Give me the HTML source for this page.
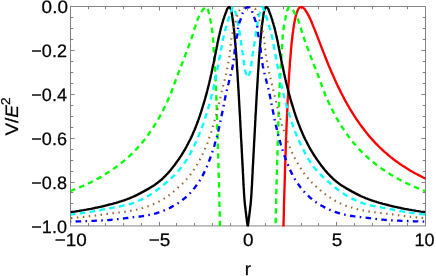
<!DOCTYPE html>
<html><head><meta charset="utf-8"><title>plot</title><style>html,body{margin:0;padding:0;background:#fff}body{width:436px;height:276px;position:relative;overflow:hidden;font-family:"Liberation Sans",sans-serif}</style></head><body>
<svg width="436" height="276" viewBox="0 0 436 276" style="position:absolute;left:0;top:0;will-change:transform">
<defs><clipPath id="c"><rect x="70.5" y="5.5" width="355.0" height="221.1"/></clipPath></defs>
<rect x="70.5" y="6.5" width="355.0" height="219.4" stroke="#858585" stroke-width="1" fill="none"/>
<path d="M88.50 225.9v-2.8M88.50 6.5v2.8M105.50 225.9v-2.8M105.50 6.5v2.8M123.50 225.9v-2.8M123.50 6.5v2.8M141.50 225.9v-2.8M141.50 6.5v2.8M159.50 225.9v-4.0M159.50 6.5v4.0M176.50 225.9v-2.8M176.50 6.5v2.8M194.50 225.9v-2.8M194.50 6.5v2.8M212.50 225.9v-2.8M212.50 6.5v2.8M230.50 225.9v-2.8M230.50 6.5v2.8M247.50 225.9v-4.0M247.50 6.5v4.0M265.50 225.9v-2.8M265.50 6.5v2.8M283.50 225.9v-2.8M283.50 6.5v2.8M301.50 225.9v-2.8M301.50 6.5v2.8M318.50 225.9v-2.8M318.50 6.5v2.8M336.50 225.9v-4.0M336.50 6.5v4.0M354.50 225.9v-2.8M354.50 6.5v2.8M372.50 225.9v-2.8M372.50 6.5v2.8M389.50 225.9v-2.8M389.50 6.5v2.8M407.50 225.9v-2.8M407.50 6.5v2.8M70.5 17.50h2.8M425.5 17.50h-2.8M70.5 28.50h2.8M425.5 28.50h-2.8M70.5 39.50h2.8M425.5 39.50h-2.8M70.5 50.50h4.0M425.5 50.50h-4.0M70.5 61.50h2.8M425.5 61.50h-2.8M70.5 72.50h2.8M425.5 72.50h-2.8M70.5 83.50h2.8M425.5 83.50h-2.8M70.5 94.50h4.0M425.5 94.50h-4.0M70.5 105.50h2.8M425.5 105.50h-2.8M70.5 116.50h2.8M425.5 116.50h-2.8M70.5 127.50h2.8M425.5 127.50h-2.8M70.5 138.50h4.0M425.5 138.50h-4.0M70.5 149.50h2.8M425.5 149.50h-2.8M70.5 160.50h2.8M425.5 160.50h-2.8M70.5 171.50h2.8M425.5 171.50h-2.8M70.5 182.50h4.0M425.5 182.50h-4.0M70.5 192.50h2.8M425.5 192.50h-2.8M70.5 203.50h2.8M425.5 203.50h-2.8M70.5 214.50h2.8M425.5 214.50h-2.8" stroke="#808080" stroke-width="1" fill="none"/>
<g clip-path="url(#c)" fill="none" stroke-width="2.35" stroke-linejoin="round">
<path d="M281.7 312.3 L281.9 302.4 L282.1 292.7 L282.3 283.4 L282.4 274.4 L282.6 265.6 L282.8 257.1 L283.0 248.8 L283.2 240.8 L283.3 233.0 L283.5 225.4 L283.7 218.1 L283.9 211.0 L284.0 204.1 L284.2 197.4 L284.4 190.9 L284.6 184.6 L284.8 178.5 L284.9 172.6 L285.1 166.8 L285.3 161.3 L285.5 155.9 L285.7 150.6 L285.8 145.5 L286.0 140.6 L286.2 135.8 L286.4 131.1 L286.5 126.6 L286.7 122.3 L286.9 118.0 L287.1 113.9 L287.3 109.9 L287.4 106.1 L287.6 102.3 L287.8 98.7 L288.0 95.2 L288.2 91.8 L288.3 88.5 L288.5 85.3 L288.7 82.2 L288.9 79.2 L289.0 76.3 L289.2 73.4 L289.4 70.7 L289.6 68.1 L289.8 65.5 L289.9 63.1 L290.1 60.7 L290.3 58.3 L290.5 56.1 L290.7 53.9 L290.8 51.9 L291.0 49.8 L291.2 47.9 L291.4 46.0 L291.5 44.2 L291.7 42.4 L291.9 40.7 L292.1 39.1 L292.3 37.5 L292.4 36.0 L292.6 34.5 L292.8 33.1 L293.0 31.7 L293.2 30.4 L293.3 29.1 L293.5 27.9 L293.7 26.7 L293.9 25.6 L294.0 24.5 L294.2 23.5 L294.4 22.5 L294.6 21.5 L294.8 20.6 L294.9 19.7 L295.1 18.9 L295.3 18.1 L295.5 17.3 L295.7 16.6 L295.8 15.9 L296.0 15.2 L296.2 14.6 L296.4 14.0 L296.6 13.4 L296.7 12.9 L296.9 12.4 L297.1 11.9 L297.3 11.4 L297.4 11.0 L297.6 10.6 L297.8 10.2 L298.0 9.9 L298.2 9.5 L298.3 9.2 L298.5 9.0 L298.7 8.7 L298.9 8.4 L299.1 8.2 L299.2 8.0 L299.4 7.8 L299.6 7.7 L299.8 7.5 L299.9 7.4 L300.1 7.3 L300.3 7.2 L300.5 7.1 L300.7 7.1 L300.8 7.0 L301.0 7.0 L301.2 7.0 L301.4 7.0 L301.6 7.0 L301.7 7.1 L301.9 7.1 L302.1 7.2 L302.3 7.2 L302.4 7.3 L302.6 7.4 L302.8 7.5 L303.0 7.6 L303.2 7.7 L303.3 7.9 L303.5 8.0 L303.7 8.2 L303.9 8.4 L304.1 8.5 L304.2 8.7 L304.4 8.9 L304.6 9.1 L304.8 9.3 L304.9 9.6 L305.1 9.8 L305.3 10.0 L305.5 10.3 L305.7 10.5 L305.8 10.8 L306.0 11.1 L306.2 11.4 L306.4 11.6 L306.6 11.9 L306.7 12.2 L306.9 12.5 L307.1 12.8 L307.3 13.1 L307.4 13.5 L307.6 13.8 L307.8 14.1 L308.0 14.5 L308.2 14.8 L308.3 15.1 L308.5 15.5 L308.7 15.8 L308.9 16.2 L309.1 16.6 L309.2 16.9 L309.4 17.3 L309.6 17.7 L309.8 18.1 L309.9 18.4 L310.1 18.8 L311.7 22.3 L313.2 26.1 L314.8 29.9 L316.3 33.9 L317.9 37.9 L319.4 41.9 L321.0 45.9 L322.5 49.9 L324.1 53.9 L325.6 57.8 L327.2 61.7 L328.7 65.5 L330.3 69.2 L331.8 72.8 L333.4 76.3 L334.9 79.8 L336.5 83.2 L338.0 86.4 L339.6 89.6 L341.1 92.7 L342.7 95.8 L344.2 98.7 L345.8 101.6 L347.3 104.3 L348.9 107.0 L350.4 109.7 L352.0 112.2 L353.5 114.7 L355.1 117.1 L356.6 119.4 L358.2 121.7 L359.7 123.9 L361.3 126.0 L362.8 128.1 L364.4 130.1 L365.9 132.1 L367.5 134.0 L369.0 135.9 L370.6 137.7 L372.1 139.4 L373.7 141.1 L375.2 142.8 L376.8 144.4 L378.3 146.0 L379.9 147.5 L381.4 149.0 L383.0 150.4 L384.5 151.8 L386.1 153.2 L387.6 154.5 L389.2 155.8 L390.7 157.1 L392.3 158.3 L393.8 159.5 L395.4 160.7 L396.9 161.8 L398.5 162.9 L400.0 164.0 L401.6 165.1 L403.1 166.1 L404.7 167.1 L406.2 168.1 L407.8 169.0 L409.3 170.0 L410.9 170.9 L412.4 171.8 L414.0 172.7 L415.5 173.5 L417.1 174.3 L418.6 175.1 L420.2 175.9 L421.7 176.7 L423.3 177.5 L424.8 178.2 L426.4 178.9 L427.9 179.6 L429.5 180.3 L431.0 181.0 L432.6 181.7" stroke="#ff0000"/>
<path d="M70.5 191.0 L70.8 190.9 L71.8 190.5 L72.8 190.1 L73.8 189.7 L74.8 189.4 L75.8 189.0 L76.8 188.6 L77.8 188.2 L78.7 187.8 L79.7 187.3 L80.7 186.9 L81.6 186.5 L82.6 186.1 L83.5 185.7 L84.5 185.3 L85.4 184.8 L86.3 184.4 L87.3 184.0 L88.2 183.5 L89.1 183.1 L90.0 182.7 L90.9 182.2 L91.8 181.8 L92.7 181.3 L93.6 180.9 L94.5 180.4 L95.3 179.9 L96.2 179.5 L97.1 179.0 L98.0 178.5 L98.8 178.1 L99.7 177.6 L100.5 177.1 L101.4 176.6 L102.2 176.1 L103.0 175.6 L103.9 175.1 L104.7 174.7 L105.5 174.1 L106.3 173.6 L107.1 173.1 L107.9 172.6 L108.7 172.1 L109.5 171.6 L110.3 171.1 L111.1 170.5 L111.9 170.0 L112.7 169.5 L113.5 168.9 L114.2 168.4 L115.0 167.8 L115.8 167.3 L116.5 166.7 L117.3 166.2 L118.0 165.6 L118.8 165.0 L119.5 164.5 L120.2 163.9 L121.0 163.3 L121.7 162.7 L122.4 162.1 L123.1 161.6 L123.8 161.0 L124.6 160.4 L125.3 159.8 L126.0 159.2 L126.7 158.5 L127.4 157.9 L128.0 157.3 L128.7 156.7 L129.4 156.1 L130.1 155.4 L130.8 154.8 L131.4 154.1 L132.1 153.5 L132.8 152.8 L133.4 152.2 L134.1 151.5 L134.7 150.9 L135.4 150.2 L136.0 149.5 L136.7 148.8 L137.3 148.1 L137.9 147.4 L138.6 146.7 L139.2 146.0 L139.8 145.3 L140.4 144.6 L141.1 143.9 L141.7 143.2 L142.3 142.4 L142.9 141.7 L143.5 141.0 L144.1 140.2 L144.7 139.5 L145.3 138.7 L145.9 137.9 L146.4 137.2 L147.0 136.4 L147.6 135.6 L148.2 134.8 L148.7 134.0 L149.3 133.2 L149.9 132.4 L150.4 131.6 L151.0 130.8 L151.5 130.0 L152.1 129.2 L152.6 128.3 L153.2 127.5 L153.7 126.6 L154.3 125.8 L154.8 124.9 L155.3 124.1 L155.9 123.2 L156.4 122.3 L156.9 121.5 L157.4 120.6 L158.0 119.7 L158.5 118.8 L159.0 117.9 L159.5 117.0 L160.0 116.1 L160.5 115.1 L161.0 114.2 L161.5 113.3 L162.0 112.3 L162.5 111.4 L163.0 110.4 L163.5 109.5 L163.9 108.5 L164.4 107.5 L164.9 106.5 L165.4 105.6 L165.9 104.6 L166.3 103.6 L166.8 102.5 L167.3 101.5 L167.7 100.5 L168.2 99.5 L168.6 98.4 L169.1 97.4 L169.5 96.3 L170.0 95.2 L170.4 94.2 L170.9 93.1 L171.3 92.0 L171.8 90.9 L172.2 89.7 L172.6 88.6 L173.1 87.4 L173.5 86.3 L173.9 85.1 L174.3 83.9 L174.8 82.8 L175.2 81.6 L175.6 80.4 L176.0 79.3 L176.4 78.2 L176.8 77.1 L177.2 76.0 L177.6 75.0 L178.0 73.9 L178.4 72.9 L178.8 71.9 L179.2 70.8 L179.6 69.8 L180.0 68.8 L180.4 67.8 L180.8 66.8 L181.2 65.9 L181.5 64.9 L181.9 63.9 L182.3 62.9 L182.7 62.0 L183.1 61.0 L183.4 60.0 L183.8 59.1 L184.2 58.1 L184.5 57.2 L184.9 56.2 L185.2 55.3 L185.6 54.3 L186.0 53.4 L186.3 52.4 L186.7 51.4 L187.0 50.5 L187.4 49.5 L187.7 48.6 L188.1 47.7 L188.4 46.7 L188.7 45.8 L189.1 44.9 L189.4 44.0 L189.8 43.1 L190.1 42.2 L190.4 41.3 L190.7 40.4 L191.1 39.5 L191.4 38.6 L191.7 37.6 L192.0 36.7 L192.4 35.7 L192.7 34.7 L193.0 33.7 L193.3 32.7 L193.6 31.7 L193.9 30.6 L194.2 29.6 L194.5 28.6 L194.8 27.6 L195.2 26.6 L195.5 25.6 L195.8 24.7 L196.1 23.8 L196.3 23.0 L196.6 22.2 L196.9 21.4 L197.2 20.6 L197.5 19.8 L197.8 19.0 L198.1 18.3 L198.4 17.6 L198.7 16.9 L198.9 16.3 L199.2 15.8 L199.5 15.2 L199.8 14.7 L200.1 14.2 L200.3 13.7 L200.6 13.3 L200.9 12.8 L201.1 12.4 L201.4 11.9 L201.7 11.5 L201.9 11.1 L202.2 10.7 L202.5 10.4 L202.7 10.0 L203.0 9.7 L203.2 9.4 L203.5 9.1 L203.7 8.8 L204.0 8.6 L204.2 8.4 L204.5 8.1 L204.7 7.9 L205.0 7.7 L205.2 7.5 L205.5 7.3 L205.7 7.2 L206.0 7.1 L206.2 7.0 L206.3 7.1 L206.4 7.1 L206.5 7.2 L206.7 7.3 L206.8 7.4 L206.9 7.6 L207.0 7.8 L207.1 8.0 L207.2 8.2 L207.4 8.4 L207.5 8.6 L207.6 8.8 L207.7 9.1 L207.8 9.3 L207.9 9.6 L208.1 9.9 L208.2 10.2 L208.3 10.6 L208.4 11.0 L208.5 11.5 L208.6 11.9 L208.8 12.4 L208.9 13.0 L209.0 13.5 L209.1 14.0 L209.2 14.5 L209.3 15.1 L209.4 15.6 L209.6 16.1 L209.7 16.6 L209.8 17.1 L209.9 17.6 L210.0 18.2 L210.1 18.7 L210.3 19.2 L210.4 19.8 L210.5 20.3 L210.6 20.9 L210.7 21.5 L210.8 22.1 L211.0 22.7 L211.1 23.4 L211.2 24.0 L211.3 24.7 L211.4 25.4 L211.5 26.1 L211.7 26.9 L211.8 27.6 L211.9 28.4 L212.0 29.2 L212.1 30.0 L212.2 30.9 L212.3 31.8 L212.5 32.8 L212.6 33.8 L212.7 34.9 L212.8 36.0 L212.9 37.3 L213.0 38.6 L213.2 40.3 L213.3 42.2 L213.4 44.3 L213.5 46.5 L213.6 48.6 L213.7 50.6 L213.9 52.6 L214.0 54.5 L214.1 56.4 L214.2 58.3 L214.3 60.1 L214.4 61.9 L214.5 63.8 L214.7 65.6 L214.8 67.4 L214.9 69.3 L215.0 71.2 L215.1 73.1 L215.2 75.1 L215.4 77.1 L215.5 79.2 L215.6 81.3 L215.7 83.6 L215.8 85.9 L215.9 88.3 L216.1 90.8 L216.2 93.4 L216.3 96.1 L216.4 99.2 L216.5 102.4 L216.6 105.9 L216.8 109.6 L216.9 113.3 L217.0 117.2 L217.1 121.1 L217.2 125.1 L217.3 129.1 L217.4 133.0 L217.6 136.8 L217.7 140.6 L217.8 144.4 L217.9 148.1 L218.0 151.8 L218.1 155.6 L218.3 159.4 L218.4 163.3 L218.5 167.2 L218.6 171.3 L218.7 175.4 L218.8 179.7 L219.0 184.2 L219.1 188.7 L219.2 193.3 L219.3 198.1 L219.4 203.1 L219.5 208.2 L219.7 213.6 L219.8 219.2 L219.9 225.2 L219.9 226.4" stroke="#00ff00" stroke-dasharray="5.45 4.22" stroke-dashoffset="0.3"/>
<path d="M275.6 226.4 L275.6 225.2 L275.7 219.2 L275.8 213.6 L276.0 208.2 L276.1 203.1 L276.2 198.1 L276.3 193.3 L276.4 188.7 L276.5 184.2 L276.7 179.7 L276.8 175.4 L276.9 171.3 L277.0 167.2 L277.1 163.3 L277.2 159.4 L277.4 155.6 L277.5 151.8 L277.6 148.1 L277.7 144.4 L277.8 140.6 L277.9 136.8 L278.1 133.0 L278.2 129.1 L278.3 125.1 L278.4 121.1 L278.5 117.2 L278.6 113.3 L278.7 109.6 L278.9 105.9 L279.0 102.4 L279.1 99.2 L279.2 96.1 L279.3 93.4 L279.4 90.8 L279.6 88.3 L279.7 85.9 L279.8 83.6 L279.9 81.3 L280.0 79.2 L280.1 77.1 L280.3 75.1 L280.4 73.1 L280.5 71.2 L280.6 69.3 L280.7 67.4 L280.8 65.6 L281.0 63.8 L281.1 61.9 L281.2 60.1 L281.3 58.3 L281.4 56.4 L281.5 54.5 L281.6 52.6 L281.8 50.6 L281.9 48.6 L282.0 46.5 L282.1 44.3 L282.2 42.2 L282.3 40.3 L282.5 38.6 L282.6 37.3 L282.7 36.0 L282.8 34.9 L282.9 33.8 L283.0 32.8 L283.2 31.8 L283.3 30.9 L283.4 30.0 L283.5 29.2 L283.6 28.4 L283.7 27.6 L283.8 26.9 L284.0 26.1 L284.1 25.4 L284.2 24.7 L284.3 24.0 L284.4 23.4 L284.5 22.7 L284.7 22.1 L284.8 21.5 L284.9 20.9 L285.0 20.3 L285.1 19.8 L285.2 19.2 L285.4 18.7 L285.5 18.2 L285.6 17.6 L285.7 17.1 L285.8 16.6 L285.9 16.1 L286.1 15.6 L286.2 15.1 L286.3 14.5 L286.4 14.0 L286.5 13.5 L286.6 13.0 L286.7 12.4 L286.9 11.9 L287.0 11.5 L287.1 11.0 L287.2 10.6 L287.3 10.2 L287.4 9.9 L287.6 9.6 L287.7 9.3 L287.8 9.1 L287.9 8.8 L288.0 8.6 L288.1 8.4 L288.3 8.2 L288.4 8.0 L288.5 7.8 L288.6 7.6 L288.7 7.4 L288.8 7.3 L289.0 7.2 L289.1 7.1 L289.2 7.1 L289.3 7.0 L289.5 7.1 L289.8 7.2 L290.0 7.3 L290.3 7.5 L290.5 7.7 L290.8 7.9 L291.0 8.1 L291.3 8.4 L291.5 8.6 L291.8 8.8 L292.0 9.1 L292.3 9.4 L292.5 9.7 L292.8 10.0 L293.0 10.4 L293.3 10.7 L293.6 11.1 L293.8 11.5 L294.1 11.9 L294.4 12.4 L294.6 12.8 L294.9 13.3 L295.2 13.7 L295.4 14.2 L295.7 14.7 L296.0 15.2 L296.3 15.8 L296.6 16.3 L296.8 16.9 L297.1 17.6 L297.4 18.3 L297.7 19.0 L298.0 19.8 L298.3 20.6 L298.6 21.4 L298.9 22.2 L299.2 23.0 L299.4 23.8 L299.7 24.7 L300.0 25.6 L300.3 26.6 L300.7 27.6 L301.0 28.6 L301.3 29.6 L301.6 30.6 L301.9 31.7 L302.2 32.7 L302.5 33.7 L302.8 34.7 L303.1 35.7 L303.5 36.7 L303.8 37.6 L304.1 38.6 L304.4 39.5 L304.8 40.4 L305.1 41.3 L305.4 42.2 L305.7 43.1 L306.1 44.0 L306.4 44.9 L306.8 45.8 L307.1 46.7 L307.4 47.7 L307.8 48.6 L308.1 49.5 L308.5 50.5 L308.8 51.4 L309.2 52.4 L309.5 53.4 L309.9 54.3 L310.3 55.3 L310.6 56.2 L311.0 57.2 L311.3 58.1 L311.7 59.1 L312.1 60.0 L312.4 61.0 L312.8 62.0 L313.2 62.9 L313.6 63.9 L314.0 64.9 L314.3 65.9 L314.7 66.8 L315.1 67.8 L315.5 68.8 L315.9 69.8 L316.3 70.8 L316.7 71.9 L317.1 72.9 L317.5 73.9 L317.9 75.0 L318.3 76.0 L318.7 77.1 L319.1 78.2 L319.5 79.3 L319.9 80.4 L320.3 81.6 L320.7 82.8 L321.2 83.9 L321.6 85.1 L322.0 86.3 L322.4 87.4 L322.9 88.6 L323.3 89.7 L323.7 90.9 L324.2 92.0 L324.6 93.1 L325.1 94.2 L325.5 95.2 L326.0 96.3 L326.4 97.4 L326.9 98.4 L327.3 99.5 L327.8 100.5 L328.2 101.5 L328.7 102.5 L329.2 103.6 L329.6 104.6 L330.1 105.6 L330.6 106.5 L331.1 107.5 L331.6 108.5 L332.0 109.5 L332.5 110.4 L333.0 111.4 L333.5 112.3 L334.0 113.3 L334.5 114.2 L335.0 115.1 L335.5 116.1 L336.0 117.0 L336.5 117.9 L337.0 118.8 L337.5 119.7 L338.1 120.6 L338.6 121.5 L339.1 122.3 L339.6 123.2 L340.2 124.1 L340.7 124.9 L341.2 125.8 L341.8 126.6 L342.3 127.5 L342.9 128.3 L343.4 129.2 L344.0 130.0 L344.5 130.8 L345.1 131.6 L345.6 132.4 L346.2 133.2 L346.8 134.0 L347.3 134.8 L347.9 135.6 L348.5 136.4 L349.1 137.2 L349.6 137.9 L350.2 138.7 L350.8 139.5 L351.4 140.2 L352.0 141.0 L352.6 141.7 L353.2 142.4 L353.8 143.2 L354.4 143.9 L355.1 144.6 L355.7 145.3 L356.3 146.0 L356.9 146.7 L357.6 147.4 L358.2 148.1 L358.8 148.8 L359.5 149.5 L360.1 150.2 L360.8 150.9 L361.4 151.5 L362.1 152.2 L362.7 152.8 L363.4 153.5 L364.1 154.1 L364.7 154.8 L365.4 155.4 L366.1 156.1 L366.8 156.7 L367.5 157.3 L368.1 157.9 L368.8 158.5 L369.5 159.2 L370.2 159.8 L370.9 160.4 L371.7 161.0 L372.4 161.6 L373.1 162.1 L373.8 162.7 L374.5 163.3 L375.3 163.9 L376.0 164.5 L376.7 165.0 L377.5 165.6 L378.2 166.2 L379.0 166.7 L379.7 167.3 L380.5 167.8 L381.3 168.4 L382.0 168.9 L382.8 169.5 L383.6 170.0 L384.4 170.5 L385.2 171.1 L386.0 171.6 L386.8 172.1 L387.6 172.6 L388.4 173.1 L389.2 173.6 L390.0 174.1 L390.8 174.7 L391.6 175.1 L392.5 175.6 L393.3 176.1 L394.1 176.6 L395.0 177.1 L395.8 177.6 L396.7 178.1 L397.5 178.5 L398.4 179.0 L399.3 179.5 L400.2 179.9 L401.0 180.4 L401.9 180.9 L402.8 181.3 L403.7 181.8 L404.6 182.2 L405.5 182.7 L406.4 183.1 L407.3 183.5 L408.2 184.0 L409.2 184.4 L410.1 184.8 L411.0 185.3 L412.0 185.7 L412.9 186.1 L413.9 186.5 L414.8 186.9 L415.8 187.3 L416.8 187.8 L417.7 188.2 L418.7 188.6 L419.7 189.0 L420.7 189.4 L421.7 189.7 L422.7 190.1 L423.7 190.5 L424.7 190.9 L425.5 191.2" stroke="#00ff00" stroke-dasharray="5.45 4.22" stroke-dashoffset="6.55"/>
<path d="M70.5 212.1 L71.5 212.0 L73.0 211.8 L74.6 211.6 L76.1 211.3 L77.6 211.1 L79.1 210.9 L80.6 210.6 L82.1 210.4 L83.6 210.2 L85.0 209.9 L86.4 209.7 L87.9 209.4 L89.3 209.1 L90.7 208.9 L92.1 208.6 L93.4 208.3 L94.8 208.0 L96.1 207.7 L97.5 207.5 L98.8 207.2 L100.1 206.9 L101.4 206.6 L102.7 206.3 L104.0 206.0 L105.3 205.7 L106.5 205.3 L107.8 205.0 L109.0 204.7 L110.2 204.4 L111.4 204.1 L112.6 203.8 L113.8 203.4 L115.0 203.1 L116.2 202.8 L117.4 202.4 L118.5 202.1 L119.6 201.7 L120.8 201.4 L121.9 201.0 L123.0 200.7 L124.1 200.3 L125.2 199.9 L126.3 199.5 L127.4 199.1 L128.4 198.7 L129.5 198.3 L130.5 197.9 L131.5 197.4 L132.6 197.0 L133.6 196.5 L134.6 196.1 L135.6 195.6 L136.6 195.1 L137.6 194.6 L138.5 194.1 L139.5 193.6 L140.5 193.1 L141.4 192.6 L142.3 192.1 L143.3 191.6 L144.2 191.1 L145.1 190.6 L146.0 190.1 L146.9 189.6 L147.8 189.1 L148.7 188.6 L149.6 188.1 L150.4 187.6 L151.3 187.0 L152.1 186.5 L153.0 186.0 L153.8 185.4 L154.6 184.9 L155.5 184.3 L156.3 183.7 L157.1 183.1 L157.9 182.5 L158.7 181.9 L159.5 181.3 L160.2 180.6 L161.0 180.0 L161.8 179.3 L162.5 178.6 L163.3 177.9 L164.0 177.2 L164.8 176.5 L165.5 175.7 L166.2 175.0 L167.0 174.2 L167.7 173.4 L168.4 172.6 L169.1 171.9 L169.8 171.0 L170.5 170.2 L171.1 169.4 L171.8 168.6 L172.5 167.7 L173.1 166.9 L173.8 166.0 L174.5 165.2 L175.1 164.3 L175.7 163.4 L176.4 162.6 L177.0 161.7 L177.6 160.8 L178.3 159.9 L178.9 159.0 L179.5 158.1 L180.1 157.2 L180.7 156.3 L181.3 155.4 L181.9 154.5 L182.4 153.6 L183.0 152.6 L183.6 151.7 L184.2 150.7 L184.7 149.8 L185.3 148.8 L185.8 147.8 L186.4 146.8 L186.9 145.8 L187.4 144.8 L188.0 143.8 L188.5 142.8 L189.0 141.8 L189.5 140.8 L190.1 139.7 L190.6 138.7 L191.1 137.6 L191.6 136.6 L192.1 135.5 L192.6 134.4 L193.0 133.3 L193.5 132.2 L194.0 131.1 L194.5 130.0 L195.0 128.8 L195.4 127.7 L195.9 126.5 L196.3 125.3 L196.8 124.2 L197.2 123.0 L197.7 121.8 L198.1 120.6 L198.6 119.4 L199.0 118.1 L199.4 116.9 L199.9 115.7 L200.3 114.4 L200.7 113.1 L201.1 111.9 L201.5 110.6 L201.9 109.3 L202.3 108.0 L202.7 106.7 L203.1 105.4 L203.5 104.1 L203.9 102.8 L204.3 101.5 L204.7 100.1 L205.1 98.8 L205.4 97.5 L205.8 96.1 L206.2 94.8 L206.6 93.4 L206.9 92.1 L207.3 90.7 L207.6 89.3 L208.0 87.9 L208.3 86.5 L208.7 85.1 L209.0 83.7 L209.4 82.2 L209.7 80.8 L210.1 79.3 L210.4 77.9 L210.7 76.4 L211.0 75.0 L211.4 73.5 L211.7 72.0 L212.0 70.6 L212.3 69.1 L212.6 67.6 L212.9 66.2 L213.2 64.7 L213.6 63.2 L213.9 61.7 L214.2 60.3 L214.5 58.8 L214.7 57.3 L215.0 55.9 L215.3 54.4 L215.6 53.0 L215.9 51.5 L216.2 50.1 L216.5 48.7 L216.7 47.3 L217.0 45.9 L217.3 44.5 L217.5 43.2 L217.8 41.8 L218.1 40.6 L218.3 39.3 L218.6 38.1 L218.9 36.9 L219.1 35.8 L219.4 34.7 L219.6 33.6 L219.9 32.5 L220.1 31.5 L220.4 30.5 L220.6 29.5 L220.8 28.6 L221.1 27.7 L221.3 26.8 L221.5 26.0 L221.8 25.1 L222.0 24.3 L222.2 23.5 L222.5 22.7 L222.7 22.0 L222.9 21.2 L223.1 20.5 L223.3 19.8 L223.5 19.1 L223.8 18.4 L224.0 17.8 L224.2 17.1 L224.4 16.5 L224.6 15.9 L224.8 15.4 L225.0 14.9 L225.2 14.3 L225.4 13.8 L225.6 13.3 L225.8 12.8 L226.0 12.3 L226.2 11.8 L226.4 11.3 L226.6 10.8 L226.7 10.2 L226.9 9.7 L227.1 9.2 L227.3 8.9 L227.5 8.6 L227.7 8.3 L227.8 8.1 L228.0 7.9 L228.2 7.7 L228.4 7.5 L228.5 7.4 L228.7 7.2 L228.9 7.1 L229.0 7.1 L229.2 7.0 L229.4 7.1 L229.5 7.2 L229.7 7.3 L229.8 7.4 L230.0 7.6 L230.1 7.9 L230.3 8.1 L230.4 8.3 L230.6 8.6 L230.8 8.9 L230.9 9.3 L231.1 9.8 L231.2 10.3 L231.4 10.9 L231.5 11.5 L231.7 12.3 L231.8 13.3 L232.0 14.5 L232.2 15.7 L232.3 16.9 L232.5 18.0 L232.6 19.1 L232.8 20.2 L232.9 21.3 L233.1 22.5 L233.3 23.6 L233.4 24.8 L233.6 26.0 L233.7 27.3 L233.9 28.6 L234.0 30.1 L234.2 31.6 L234.3 33.2 L234.5 34.9 L234.7 36.6 L234.8 38.2 L235.0 39.9 L235.1 41.6 L235.3 43.3 L235.4 45.0 L235.6 46.8 L235.7 48.7 L235.9 50.7 L236.1 52.7 L236.2 54.8 L236.4 57.0 L236.5 59.2 L236.7 61.5 L236.8 63.8 L237.0 66.2 L237.1 68.6 L237.3 71.1 L237.5 73.5 L237.6 76.0 L237.8 78.6 L237.9 81.1 L238.1 83.7 L238.2 86.3 L238.4 88.9 L238.6 91.5 L238.7 94.1 L238.9 96.8 L239.0 99.5 L239.2 102.3 L239.3 105.0 L239.5 107.9 L239.6 110.7 L239.8 113.6 L240.0 116.5 L240.1 119.4 L240.3 122.4 L240.4 125.3 L240.6 128.3 L240.7 131.2 L240.9 134.1 L241.0 137.0 L241.2 139.9 L241.4 142.8 L241.5 145.7 L241.7 148.6 L241.8 151.5 L242.0 154.4 L242.1 157.3 L242.3 160.2 L242.4 163.2 L242.6 166.2 L242.8 169.2 L242.9 172.4 L243.1 175.5 L243.2 178.7 L243.4 181.7 L243.5 184.7 L243.7 187.6 L243.9 190.5 L244.0 193.1 L244.2 195.5 L244.3 197.6 L244.5 199.5 L244.6 201.3 L244.8 202.9 L244.9 204.5 L245.1 206.0 L245.3 207.4 L245.4 208.8 L245.6 210.1 L245.7 211.3 L245.9 212.5 L246.0 213.8 L246.2 215.0 L246.3 216.3 L246.5 217.6 L246.7 218.9 L246.8 220.1 L247.0 221.3 L247.1 222.4 L247.3 223.4 L247.4 224.4 L247.6 225.4 L247.8 226.3 L247.9 225.4 L248.1 224.4 L248.2 223.4 L248.4 222.4 L248.5 221.3 L248.7 220.1 L248.8 218.9 L249.0 217.6 L249.2 216.3 L249.3 215.0 L249.5 213.8 L249.6 212.5 L249.8 211.3 L249.9 210.1 L250.1 208.8 L250.2 207.4 L250.4 206.0 L250.6 204.5 L250.7 202.9 L250.9 201.3 L251.0 199.5 L251.2 197.6 L251.3 195.5 L251.5 193.1 L251.6 190.5 L251.8 187.6 L252.0 184.7 L252.1 181.7 L252.3 178.7 L252.4 175.5 L252.6 172.4 L252.7 169.2 L252.9 166.2 L253.1 163.2 L253.2 160.2 L253.4 157.3 L253.5 154.4 L253.7 151.5 L253.8 148.6 L254.0 145.7 L254.1 142.8 L254.3 139.9 L254.5 137.0 L254.6 134.1 L254.8 131.2 L254.9 128.3 L255.1 125.3 L255.2 122.4 L255.4 119.4 L255.5 116.5 L255.7 113.6 L255.9 110.7 L256.0 107.9 L256.2 105.0 L256.3 102.3 L256.5 99.5 L256.6 96.8 L256.8 94.1 L256.9 91.5 L257.1 88.9 L257.3 86.3 L257.4 83.7 L257.6 81.1 L257.7 78.6 L257.9 76.0 L258.0 73.5 L258.2 71.1 L258.4 68.6 L258.5 66.2 L258.7 63.8 L258.8 61.5 L259.0 59.2 L259.1 57.0 L259.3 54.8 L259.4 52.7 L259.6 50.7 L259.8 48.7 L259.9 46.8 L260.1 45.0 L260.2 43.3 L260.4 41.6 L260.5 39.9 L260.7 38.2 L260.8 36.6 L261.0 34.9 L261.2 33.2 L261.3 31.6 L261.5 30.1 L261.6 28.6 L261.8 27.3 L261.9 26.0 L262.1 24.8 L262.2 23.6 L262.4 22.5 L262.6 21.3 L262.7 20.2 L262.9 19.1 L263.0 18.0 L263.2 16.9 L263.3 15.7 L263.5 14.5 L263.7 13.3 L263.8 12.3 L264.0 11.5 L264.1 10.9 L264.3 10.3 L264.4 9.8 L264.6 9.3 L264.7 8.9 L264.9 8.6 L265.1 8.3 L265.2 8.1 L265.4 7.9 L265.5 7.6 L265.7 7.4 L265.8 7.3 L266.0 7.2 L266.1 7.1 L266.3 7.0 L266.5 7.1 L266.6 7.1 L266.8 7.2 L267.0 7.4 L267.1 7.5 L267.3 7.7 L267.5 7.9 L267.7 8.1 L267.8 8.3 L268.0 8.6 L268.2 8.9 L268.4 9.2 L268.6 9.7 L268.8 10.2 L268.9 10.8 L269.1 11.3 L269.3 11.8 L269.5 12.3 L269.7 12.8 L269.9 13.3 L270.1 13.8 L270.3 14.3 L270.5 14.9 L270.7 15.4 L270.9 15.9 L271.1 16.5 L271.3 17.1 L271.5 17.8 L271.7 18.4 L272.0 19.1 L272.2 19.8 L272.4 20.5 L272.6 21.2 L272.8 22.0 L273.0 22.7 L273.3 23.5 L273.5 24.3 L273.7 25.1 L274.0 26.0 L274.2 26.8 L274.4 27.7 L274.7 28.6 L274.9 29.5 L275.1 30.5 L275.4 31.5 L275.6 32.5 L275.9 33.6 L276.1 34.7 L276.4 35.8 L276.6 36.9 L276.9 38.1 L277.2 39.3 L277.4 40.6 L277.7 41.8 L278.0 43.2 L278.2 44.5 L278.5 45.9 L278.8 47.3 L279.0 48.7 L279.3 50.1 L279.6 51.5 L279.9 53.0 L280.2 54.4 L280.5 55.9 L280.8 57.3 L281.0 58.8 L281.3 60.3 L281.6 61.7 L281.9 63.2 L282.3 64.7 L282.6 66.2 L282.9 67.6 L283.2 69.1 L283.5 70.6 L283.8 72.0 L284.1 73.5 L284.5 75.0 L284.8 76.4 L285.1 77.9 L285.4 79.3 L285.8 80.8 L286.1 82.2 L286.5 83.7 L286.8 85.1 L287.2 86.5 L287.5 87.9 L287.9 89.3 L288.2 90.7 L288.6 92.1 L288.9 93.4 L289.3 94.8 L289.7 96.1 L290.1 97.5 L290.4 98.8 L290.8 100.1 L291.2 101.5 L291.6 102.8 L292.0 104.1 L292.4 105.4 L292.8 106.7 L293.2 108.0 L293.6 109.3 L294.0 110.6 L294.4 111.9 L294.8 113.1 L295.2 114.4 L295.6 115.7 L296.1 116.9 L296.5 118.1 L296.9 119.4 L297.4 120.6 L297.8 121.8 L298.3 123.0 L298.7 124.2 L299.2 125.3 L299.6 126.5 L300.1 127.7 L300.5 128.8 L301.0 130.0 L301.5 131.1 L302.0 132.2 L302.5 133.3 L302.9 134.4 L303.4 135.5 L303.9 136.6 L304.4 137.6 L304.9 138.7 L305.4 139.7 L306.0 140.8 L306.5 141.8 L307.0 142.8 L307.5 143.8 L308.1 144.8 L308.6 145.8 L309.1 146.8 L309.7 147.8 L310.2 148.8 L310.8 149.8 L311.3 150.7 L311.9 151.7 L312.5 152.6 L313.1 153.6 L313.6 154.5 L314.2 155.4 L314.8 156.3 L315.4 157.2 L316.0 158.1 L316.6 159.0 L317.2 159.9 L317.9 160.8 L318.5 161.7 L319.1 162.6 L319.8 163.4 L320.4 164.3 L321.0 165.2 L321.7 166.0 L322.4 166.9 L323.0 167.7 L323.7 168.6 L324.4 169.4 L325.0 170.2 L325.7 171.0 L326.4 171.9 L327.1 172.6 L327.8 173.4 L328.5 174.2 L329.3 175.0 L330.0 175.7 L330.7 176.5 L331.5 177.2 L332.2 177.9 L333.0 178.6 L333.7 179.3 L334.5 180.0 L335.3 180.6 L336.0 181.3 L336.8 181.9 L337.6 182.5 L338.4 183.1 L339.2 183.7 L340.0 184.3 L340.9 184.9 L341.7 185.4 L342.5 186.0 L343.4 186.5 L344.2 187.0 L345.1 187.6 L345.9 188.1 L346.8 188.6 L347.7 189.1 L348.6 189.6 L349.5 190.1 L350.4 190.6 L351.3 191.1 L352.2 191.6 L353.2 192.1 L354.1 192.6 L355.0 193.1 L356.0 193.6 L357.0 194.1 L357.9 194.6 L358.9 195.1 L359.9 195.6 L360.9 196.1 L361.9 196.5 L362.9 197.0 L364.0 197.4 L365.0 197.9 L366.0 198.3 L367.1 198.7 L368.1 199.1 L369.2 199.5 L370.3 199.9 L371.4 200.3 L372.5 200.7 L373.6 201.0 L374.7 201.4 L375.9 201.7 L377.0 202.1 L378.1 202.4 L379.3 202.8 L380.5 203.1 L381.7 203.4 L382.9 203.8 L384.1 204.1 L385.3 204.4 L386.5 204.7 L387.7 205.0 L389.0 205.3 L390.2 205.7 L391.5 206.0 L392.8 206.3 L394.1 206.6 L395.4 206.9 L396.7 207.2 L398.0 207.5 L399.4 207.7 L400.7 208.0 L402.1 208.3 L403.4 208.6 L404.8 208.9 L406.2 209.1 L407.6 209.4 L409.1 209.7 L410.5 209.9 L411.9 210.2 L413.4 210.4 L414.9 210.6 L416.4 210.9 L417.9 211.1 L419.4 211.3 L420.9 211.6 L422.5 211.8 L424.0 212.0 L425.5 212.2" stroke="#000"/>
<path d="M70.5 214.6 L70.6 214.6 L72.3 214.4 L74.0 214.2 L75.7 214.0 L77.4 213.8 L79.1 213.6 L80.7 213.3 L82.3 213.1 L83.9 212.9 L85.5 212.6 L87.1 212.4 L88.7 212.1 L90.2 211.8 L91.8 211.6 L93.3 211.3 L94.8 211.1 L96.3 210.8 L97.8 210.5 L99.2 210.3 L100.7 210.0 L102.1 209.7 L103.5 209.4 L105.0 209.2 L106.3 208.9 L107.7 208.7 L109.1 208.4 L110.4 208.2 L111.8 207.9 L113.1 207.7 L114.4 207.4 L115.7 207.2 L117.0 207.0 L118.3 206.7 L119.5 206.5 L120.8 206.2 L122.0 206.0 L123.3 205.7 L124.5 205.5 L125.7 205.2 L126.9 204.9 L128.0 204.6 L129.2 204.3 L130.4 203.9 L131.5 203.6 L132.7 203.2 L133.8 202.8 L134.9 202.4 L136.0 201.9 L137.1 201.5 L138.2 201.0 L139.2 200.5 L140.3 200.0 L141.3 199.6 L142.4 199.1 L143.4 198.6 L144.4 198.1 L145.4 197.5 L146.4 197.0 L147.4 196.4 L148.4 195.9 L149.4 195.3 L150.3 194.7 L151.3 194.1 L152.2 193.5 L153.1 192.9 L154.1 192.2 L155.0 191.6 L155.9 190.9 L156.8 190.2 L157.7 189.6 L158.5 188.9 L159.4 188.2 L160.3 187.5 L161.1 186.8 L162.0 186.1 L162.8 185.4 L163.6 184.7 L164.5 184.0 L165.3 183.3 L166.1 182.6 L166.9 182.0 L167.7 181.3 L168.4 180.6 L169.2 179.9 L170.0 179.3 L170.7 178.6 L171.5 177.9 L172.2 177.2 L173.0 176.6 L173.7 175.9 L174.4 175.2 L175.1 174.5 L175.8 173.8 L176.5 173.0 L177.2 172.3 L177.9 171.5 L178.6 170.7 L179.3 169.9 L180.0 169.1 L180.6 168.3 L181.3 167.5 L181.9 166.6 L182.6 165.7 L183.2 164.9 L183.8 164.0 L184.5 163.0 L185.1 162.1 L185.7 161.2 L186.3 160.2 L186.9 159.3 L187.5 158.3 L188.1 157.3 L188.6 156.3 L189.2 155.3 L189.8 154.3 L190.4 153.3 L190.9 152.2 L191.5 151.2 L192.0 150.1 L192.6 149.0 L193.1 148.0 L193.6 146.9 L194.2 145.8 L194.7 144.7 L195.2 143.6 L195.7 142.5 L196.2 141.3 L196.7 140.2 L197.2 139.1 L197.7 138.0 L198.2 136.8 L198.7 135.7 L199.2 134.5 L199.6 133.3 L200.1 132.2 L200.6 131.0 L201.0 129.8 L201.5 128.6 L201.9 127.4 L202.4 126.2 L202.8 124.9 L203.3 123.7 L203.7 122.4 L204.1 121.2 L204.6 119.9 L205.0 118.6 L205.4 117.4 L205.8 116.1 L206.2 114.8 L206.6 113.5 L207.0 112.1 L207.4 110.8 L207.8 109.5 L208.2 108.1 L208.6 106.8 L209.0 105.4 L209.4 104.1 L209.7 102.7 L210.1 101.4 L210.5 100.0 L210.8 98.6 L211.2 97.2 L211.5 95.8 L211.9 94.4 L212.2 93.0 L212.6 91.6 L212.9 90.1 L213.3 88.7 L213.6 87.2 L213.9 85.8 L214.3 84.3 L214.6 82.8 L214.9 81.3 L215.2 79.8 L215.6 78.3 L215.9 76.8 L216.2 75.2 L216.5 73.7 L216.8 72.2 L217.1 70.7 L217.4 69.1 L217.7 67.6 L218.0 66.1 L218.3 64.6 L218.6 63.0 L218.9 61.5 L219.1 60.0 L219.4 58.5 L219.7 57.0 L220.0 55.6 L220.2 54.1 L220.5 52.7 L220.8 51.2 L221.0 49.8 L221.3 48.4 L221.6 47.0 L221.8 45.6 L222.1 44.2 L222.3 42.8 L222.6 41.5 L222.8 40.1 L223.0 38.9 L223.3 37.7 L223.5 36.5 L223.8 35.5 L224.0 34.5 L224.2 33.6 L224.5 32.7 L224.7 31.8 L224.9 31.0 L225.1 30.2 L225.4 29.4 L225.6 28.7 L225.8 27.9 L226.0 27.2 L226.2 26.5 L226.4 25.9 L226.6 25.2 L226.8 24.5 L227.0 23.9 L227.2 23.2 L227.4 22.6 L227.6 22.0 L227.8 21.3 L228.0 20.7 L228.2 20.1 L228.4 19.5 L228.6 18.9 L228.8 18.3 L229.0 17.8 L229.2 17.2 L229.3 16.7 L229.5 16.2 L229.7 15.7 L229.9 15.2 L230.0 14.7 L230.2 14.2 L230.4 13.8 L230.6 13.3 L230.7 12.8 L230.9 12.3 L231.1 11.8 L231.2 11.3 L231.4 10.8 L231.5 10.3 L231.7 9.8 L231.9 9.4 L232.0 8.9 L232.2 8.5 L232.3 8.2 L232.5 7.9 L232.6 7.6 L232.8 7.4 L232.9 7.2 L233.1 7.1 L233.2 7.0 L233.3 7.1 L233.4 7.1 L233.6 7.3 L233.7 7.4 L233.8 7.6 L233.9 7.8 L234.1 8.1 L234.2 8.4 L234.3 8.7 L234.4 9.0 L234.5 9.4 L234.7 9.8 L234.8 10.2 L234.9 10.6 L235.0 11.0 L235.2 11.4 L235.3 11.9 L235.4 12.3 L235.5 12.7 L235.6 13.1 L235.8 13.6 L235.9 14.0 L236.0 14.4 L236.1 14.8 L236.3 15.3 L236.4 15.7 L236.5 16.2 L236.6 16.7 L236.7 17.2 L236.9 17.7 L237.0 18.3 L237.1 18.8 L237.2 19.4 L237.4 20.0 L237.5 20.6 L237.6 21.2 L237.7 21.8 L237.8 22.4 L238.0 23.0 L238.1 23.7 L238.2 24.3 L238.3 25.0 L238.5 25.6 L238.6 26.3 L238.7 27.0 L238.8 27.7 L238.9 28.5 L239.1 29.2 L239.2 30.0 L239.3 30.8 L239.4 31.6 L239.6 32.4 L239.7 33.2 L239.8 34.1 L239.9 34.9 L240.0 35.7 L240.2 36.5 L240.3 37.4 L240.4 38.2 L240.5 39.0 L240.7 39.9 L240.8 40.8 L240.9 41.7 L241.0 42.5 L241.1 43.4 L241.3 44.3 L241.4 45.2 L241.5 46.1 L241.6 47.0 L241.8 47.8 L241.9 48.6 L242.0 49.4 L242.1 50.2 L242.2 50.8 L242.4 51.4 L242.5 52.0 L242.6 52.7 L242.7 53.3 L242.9 54.0 L243.0 54.9 L243.1 55.9 L243.2 57.0 L243.3 58.1 L243.5 59.3 L243.6 60.4 L243.7 61.4 L243.8 62.3 L244.0 63.2 L244.1 64.0 L244.2 64.7 L244.3 65.5 L244.4 66.2 L244.6 66.9 L244.7 67.6 L244.8 68.2 L244.9 68.9 L245.1 69.5 L245.2 70.1 L245.3 70.7 L245.4 71.2 L245.5 71.8 L245.7 72.3 L245.8 72.8 L245.9 73.2 L246.0 73.7 L246.2 74.0 L246.3 74.4 L246.4 74.7 L246.5 75.0 L246.6 75.3 L246.8 75.6 L246.9 75.9 L247.0 76.2 L247.1 76.4 L247.3 76.7 L247.4 76.9 L247.5 77.0 L247.6 77.2 L247.8 77.3 L247.9 77.2 L248.0 77.0 L248.1 76.9 L248.2 76.7 L248.4 76.4 L248.5 76.2 L248.6 75.9 L248.7 75.6 L248.9 75.3 L249.0 75.0 L249.1 74.7 L249.2 74.4 L249.3 74.0 L249.5 73.7 L249.6 73.2 L249.7 72.8 L249.8 72.3 L250.0 71.8 L250.1 71.2 L250.2 70.7 L250.3 70.1 L250.4 69.5 L250.6 68.9 L250.7 68.2 L250.8 67.6 L250.9 66.9 L251.1 66.2 L251.2 65.5 L251.3 64.7 L251.4 64.0 L251.5 63.2 L251.7 62.3 L251.8 61.4 L251.9 60.4 L252.0 59.3 L252.2 58.1 L252.3 57.0 L252.4 55.9 L252.5 54.9 L252.6 54.0 L252.8 53.3 L252.9 52.7 L253.0 52.0 L253.1 51.4 L253.3 50.8 L253.4 50.2 L253.5 49.4 L253.6 48.6 L253.7 47.8 L253.9 47.0 L254.0 46.1 L254.1 45.2 L254.2 44.3 L254.4 43.4 L254.5 42.5 L254.6 41.7 L254.7 40.8 L254.8 39.9 L255.0 39.0 L255.1 38.2 L255.2 37.4 L255.3 36.5 L255.5 35.7 L255.6 34.9 L255.7 34.1 L255.8 33.2 L255.9 32.4 L256.1 31.6 L256.2 30.8 L256.3 30.0 L256.4 29.2 L256.6 28.5 L256.7 27.7 L256.8 27.0 L256.9 26.3 L257.0 25.6 L257.2 25.0 L257.3 24.3 L257.4 23.7 L257.5 23.0 L257.7 22.4 L257.8 21.8 L257.9 21.2 L258.0 20.6 L258.1 20.0 L258.3 19.4 L258.4 18.8 L258.5 18.3 L258.6 17.7 L258.8 17.2 L258.9 16.7 L259.0 16.2 L259.1 15.7 L259.2 15.3 L259.4 14.8 L259.5 14.4 L259.6 14.0 L259.7 13.6 L259.9 13.1 L260.0 12.7 L260.1 12.3 L260.2 11.9 L260.3 11.4 L260.5 11.0 L260.6 10.6 L260.7 10.2 L260.8 9.8 L261.0 9.4 L261.1 9.0 L261.2 8.7 L261.3 8.4 L261.4 8.1 L261.6 7.8 L261.7 7.6 L261.8 7.4 L261.9 7.3 L262.1 7.1 L262.2 7.1 L262.3 7.0 L262.4 7.1 L262.6 7.2 L262.7 7.4 L262.9 7.6 L263.0 7.9 L263.2 8.2 L263.3 8.5 L263.5 8.9 L263.6 9.4 L263.8 9.8 L264.0 10.3 L264.1 10.8 L264.3 11.3 L264.4 11.8 L264.6 12.3 L264.8 12.8 L264.9 13.3 L265.1 13.8 L265.3 14.2 L265.5 14.7 L265.6 15.2 L265.8 15.7 L266.0 16.2 L266.2 16.7 L266.3 17.2 L266.5 17.8 L266.7 18.3 L266.9 18.9 L267.1 19.5 L267.3 20.1 L267.5 20.7 L267.7 21.3 L267.9 22.0 L268.1 22.6 L268.3 23.2 L268.5 23.9 L268.7 24.5 L268.9 25.2 L269.1 25.9 L269.3 26.5 L269.5 27.2 L269.7 27.9 L269.9 28.7 L270.1 29.4 L270.4 30.2 L270.6 31.0 L270.8 31.8 L271.0 32.7 L271.3 33.6 L271.5 34.5 L271.7 35.5 L272.0 36.5 L272.2 37.7 L272.5 38.9 L272.7 40.1 L272.9 41.5 L273.2 42.8 L273.4 44.2 L273.7 45.6 L273.9 47.0 L274.2 48.4 L274.5 49.8 L274.7 51.2 L275.0 52.7 L275.3 54.1 L275.5 55.6 L275.8 57.0 L276.1 58.5 L276.4 60.0 L276.6 61.5 L276.9 63.0 L277.2 64.6 L277.5 66.1 L277.8 67.6 L278.1 69.1 L278.4 70.7 L278.7 72.2 L279.0 73.7 L279.3 75.2 L279.6 76.8 L279.9 78.3 L280.3 79.8 L280.6 81.3 L280.9 82.8 L281.2 84.3 L281.6 85.8 L281.9 87.2 L282.2 88.7 L282.6 90.1 L282.9 91.6 L283.3 93.0 L283.6 94.4 L284.0 95.8 L284.3 97.2 L284.7 98.6 L285.0 100.0 L285.4 101.4 L285.8 102.7 L286.1 104.1 L286.5 105.4 L286.9 106.8 L287.3 108.1 L287.7 109.5 L288.1 110.8 L288.5 112.1 L288.9 113.5 L289.3 114.8 L289.7 116.1 L290.1 117.4 L290.5 118.6 L290.9 119.9 L291.4 121.2 L291.8 122.4 L292.2 123.7 L292.7 124.9 L293.1 126.2 L293.6 127.4 L294.0 128.6 L294.5 129.8 L294.9 131.0 L295.4 132.2 L295.9 133.3 L296.3 134.5 L296.8 135.7 L297.3 136.8 L297.8 138.0 L298.3 139.1 L298.8 140.2 L299.3 141.3 L299.8 142.5 L300.3 143.6 L300.8 144.7 L301.3 145.8 L301.9 146.9 L302.4 148.0 L302.9 149.0 L303.5 150.1 L304.0 151.2 L304.6 152.2 L305.1 153.3 L305.7 154.3 L306.3 155.3 L306.9 156.3 L307.4 157.3 L308.0 158.3 L308.6 159.3 L309.2 160.2 L309.8 161.2 L310.4 162.1 L311.0 163.0 L311.7 164.0 L312.3 164.9 L312.9 165.7 L313.6 166.6 L314.2 167.5 L314.9 168.3 L315.5 169.1 L316.2 169.9 L316.9 170.7 L317.6 171.5 L318.3 172.3 L319.0 173.0 L319.7 173.8 L320.4 174.5 L321.1 175.2 L321.8 175.9 L322.5 176.6 L323.3 177.2 L324.0 177.9 L324.8 178.6 L325.5 179.3 L326.3 179.9 L327.1 180.6 L327.8 181.3 L328.6 182.0 L329.4 182.6 L330.2 183.3 L331.0 184.0 L331.9 184.7 L332.7 185.4 L333.5 186.1 L334.4 186.8 L335.2 187.5 L336.1 188.2 L337.0 188.9 L337.8 189.6 L338.7 190.2 L339.6 190.9 L340.5 191.6 L341.4 192.2 L342.4 192.9 L343.3 193.5 L344.2 194.1 L345.2 194.7 L346.1 195.3 L347.1 195.9 L348.1 196.4 L349.1 197.0 L350.1 197.5 L351.1 198.1 L352.1 198.6 L353.1 199.1 L354.2 199.6 L355.2 200.0 L356.3 200.5 L357.3 201.0 L358.4 201.5 L359.5 201.9 L360.6 202.4 L361.7 202.8 L362.8 203.2 L364.0 203.6 L365.1 203.9 L366.3 204.3 L367.5 204.6 L368.6 204.9 L369.8 205.2 L371.0 205.5 L372.2 205.7 L373.5 206.0 L374.7 206.2 L376.0 206.5 L377.2 206.7 L378.5 207.0 L379.8 207.2 L381.1 207.4 L382.4 207.7 L383.7 207.9 L385.1 208.2 L386.4 208.4 L387.8 208.7 L389.2 208.9 L390.5 209.2 L392.0 209.4 L393.4 209.7 L394.8 210.0 L396.3 210.3 L397.7 210.5 L399.2 210.8 L400.7 211.1 L402.2 211.3 L403.7 211.6 L405.3 211.8 L406.8 212.1 L408.4 212.4 L410.0 212.6 L411.6 212.9 L413.2 213.1 L414.8 213.3 L416.4 213.6 L418.1 213.8 L419.8 214.0 L421.5 214.2 L423.2 214.4 L424.9 214.6 L425.5 214.7" stroke="#00ffff" stroke-dasharray="5.6 4.38" stroke-dashoffset="0.7"/>
<path d="M70.5 218.2 L71.1 218.1 L73.0 217.9 L74.8 217.8 L76.7 217.6 L78.5 217.4 L80.3 217.3 L82.0 217.1 L83.8 216.9 L85.5 216.7 L87.2 216.5 L88.9 216.3 L90.6 216.1 L92.2 215.9 L93.9 215.7 L95.5 215.5 L97.1 215.3 L98.7 215.1 L100.3 214.9 L101.8 214.6 L103.3 214.4 L104.9 214.2 L106.4 214.0 L107.9 213.9 L109.3 213.7 L110.8 213.5 L112.2 213.3 L113.7 213.1 L115.1 213.0 L116.5 212.8 L117.9 212.6 L119.2 212.5 L120.6 212.3 L121.9 212.1 L123.3 212.0 L124.6 211.8 L125.9 211.6 L127.1 211.4 L128.4 211.2 L129.7 211.0 L130.9 210.7 L132.1 210.5 L133.4 210.3 L134.6 210.0 L135.8 209.7 L136.9 209.5 L138.1 209.2 L139.3 208.9 L140.4 208.6 L141.5 208.3 L142.7 208.0 L143.8 207.6 L144.9 207.3 L146.0 207.0 L147.0 206.6 L148.1 206.2 L149.1 205.9 L150.2 205.5 L151.2 205.1 L152.2 204.7 L153.2 204.2 L154.2 203.8 L155.2 203.4 L156.2 202.9 L157.1 202.4 L158.1 202.0 L159.0 201.5 L160.0 201.0 L160.9 200.5 L161.8 199.9 L162.7 199.4 L163.6 198.8 L164.5 198.3 L165.4 197.7 L166.3 197.2 L167.1 196.6 L168.0 196.0 L168.8 195.4 L169.6 194.8 L170.5 194.1 L171.3 193.5 L172.1 192.9 L172.9 192.2 L173.7 191.6 L174.4 190.9 L175.2 190.3 L176.0 189.6 L176.7 188.9 L177.5 188.2 L178.2 187.6 L179.0 186.9 L179.7 186.2 L180.4 185.5 L181.1 184.9 L181.8 184.2 L182.5 183.6 L183.2 182.9 L183.9 182.2 L184.6 181.5 L185.2 180.8 L185.9 180.1 L186.5 179.3 L187.2 178.6 L187.8 177.8 L188.4 177.1 L189.1 176.3 L189.7 175.5 L190.3 174.8 L190.9 174.0 L191.5 173.2 L192.1 172.4 L192.7 171.5 L193.3 170.6 L193.8 169.8 L194.4 168.9 L195.0 168.0 L195.5 167.1 L196.1 166.2 L196.6 165.3 L197.2 164.4 L197.7 163.5 L198.2 162.6 L198.7 161.6 L199.3 160.7 L199.8 159.8 L200.3 158.8 L200.8 157.8 L201.3 156.9 L201.8 155.9 L202.2 154.9 L202.7 153.9 L203.2 152.9 L203.7 151.9 L204.1 150.8 L204.6 149.8 L205.0 148.8 L205.5 147.7 L205.9 146.7 L206.4 145.6 L206.8 144.5 L207.3 143.3 L207.7 142.2 L208.1 141.0 L208.5 139.9 L208.9 138.7 L209.3 137.6 L209.7 136.5 L210.1 135.3 L210.5 134.2 L210.9 133.0 L211.3 131.8 L211.7 130.6 L212.1 129.4 L212.5 128.2 L212.8 127.0 L213.2 125.7 L213.6 124.5 L213.9 123.2 L214.3 121.9 L214.6 120.7 L215.0 119.4 L215.3 118.1 L215.7 116.8 L216.0 115.5 L216.3 114.2 L216.7 112.9 L217.0 111.6 L217.3 110.3 L217.6 109.0 L218.0 107.7 L218.3 106.4 L218.6 105.1 L218.9 103.8 L219.2 102.5 L219.5 101.2 L219.8 100.0 L220.1 98.7 L220.4 97.5 L220.7 96.2 L221.0 95.0 L221.2 93.8 L221.5 92.7 L221.8 91.5 L222.1 90.4 L222.3 89.2 L222.6 88.1 L222.9 87.0 L223.1 86.0 L223.4 84.9 L223.7 83.9 L223.9 82.8 L224.2 81.8 L224.4 80.8 L224.7 79.8 L224.9 78.8 L225.1 77.7 L225.4 76.7 L225.6 75.7 L225.8 74.7 L226.1 73.7 L226.3 72.7 L226.5 71.7 L226.8 70.7 L227.0 69.6 L227.2 68.6 L227.4 67.5 L227.6 66.5 L227.8 65.4 L228.0 64.2 L228.3 63.1 L228.5 61.9 L228.7 60.7 L228.9 59.5 L229.1 58.3 L229.3 57.0 L229.5 55.6 L229.6 54.3 L229.8 52.9 L230.0 51.4 L230.2 49.9 L230.4 48.2 L230.6 46.3 L230.8 44.2 L230.9 42.2 L231.1 40.4 L231.3 38.8 L231.5 37.7 L231.6 36.8 L231.8 36.0 L232.0 35.2 L232.1 34.6 L232.3 34.0 L232.5 33.4 L232.6 32.8 L232.8 32.2 L232.9 31.6 L233.1 31.0 L233.3 30.5 L233.4 30.0 L233.6 29.5 L233.7 29.0 L233.9 28.5 L234.0 28.0 L234.2 27.5 L234.3 26.9 L234.4 26.4 L234.6 25.8 L234.7 25.3 L234.9 24.7 L235.0 24.1 L235.1 23.6 L235.3 23.0 L235.4 22.4 L235.5 21.9 L235.6 21.4 L235.8 20.9 L235.9 20.4 L236.1 19.7 L236.3 18.9 L236.5 18.2 L236.7 17.5 L236.9 16.8 L237.1 16.1 L237.3 15.5 L237.5 14.9 L237.7 14.4 L237.9 13.9 L238.1 13.3 L238.3 12.8 L238.5 12.3 L238.7 11.8 L238.9 11.3 L239.1 10.9 L239.3 10.5 L239.5 10.1 L239.7 9.7 L239.9 9.4 L240.1 9.2 L240.3 9.0 L240.5 8.8 L240.7 8.7 L240.9 8.5 L241.1 8.4 L241.3 8.2 L241.5 8.1 L241.7 8.0 L241.9 7.9 L242.1 7.8 L242.3 7.7 L242.5 7.7 L242.7 7.6 L242.9 7.5 L243.1 7.5 L243.3 7.4 L243.5 7.4 L243.7 7.4 L243.9 7.3 L244.1 7.3 L244.3 7.3 L244.5 7.3 L244.7 7.2 L244.9 7.2 L245.1 7.2 L245.3 7.2 L245.5 7.2 L245.7 7.1 L245.9 7.1 L246.1 7.1 L246.3 7.1 L246.5 7.1 L246.7 7.1 L246.9 7.1 L247.1 7.1 L247.3 7.1 L247.5 7.1 L247.8 7.1 L248.0 7.1 L248.2 7.1 L248.4 7.1 L248.6 7.1 L248.8 7.1 L249.0 7.1 L249.2 7.1 L249.4 7.1 L249.6 7.1 L249.8 7.1 L250.0 7.2 L250.2 7.2 L250.4 7.2 L250.6 7.2 L250.8 7.2 L251.0 7.3 L251.2 7.3 L251.4 7.3 L251.6 7.3 L251.8 7.4 L252.0 7.4 L252.2 7.4 L252.4 7.5 L252.6 7.5 L252.8 7.6 L253.0 7.7 L253.2 7.7 L253.4 7.8 L253.6 7.9 L253.8 8.0 L254.0 8.1 L254.2 8.2 L254.4 8.4 L254.6 8.5 L254.8 8.7 L255.0 8.8 L255.2 9.0 L255.4 9.2 L255.6 9.4 L255.8 9.7 L256.0 10.1 L256.2 10.5 L256.4 10.9 L256.6 11.3 L256.8 11.8 L257.0 12.3 L257.2 12.8 L257.4 13.3 L257.6 13.9 L257.8 14.4 L258.0 14.9 L258.2 15.5 L258.4 16.1 L258.6 16.8 L258.8 17.5 L259.0 18.2 L259.2 18.9 L259.4 19.7 L259.6 20.4 L259.7 20.9 L259.9 21.4 L260.0 21.9 L260.1 22.4 L260.2 23.0 L260.4 23.6 L260.5 24.1 L260.6 24.7 L260.8 25.3 L260.9 25.8 L261.1 26.4 L261.2 26.9 L261.3 27.5 L261.5 28.0 L261.6 28.5 L261.8 29.0 L261.9 29.5 L262.1 30.0 L262.2 30.5 L262.4 31.0 L262.6 31.6 L262.7 32.2 L262.9 32.8 L263.0 33.4 L263.2 34.0 L263.4 34.6 L263.5 35.2 L263.7 36.0 L263.9 36.8 L264.0 37.7 L264.2 38.8 L264.4 40.4 L264.6 42.2 L264.7 44.2 L264.9 46.3 L265.1 48.2 L265.3 49.9 L265.5 51.4 L265.7 52.9 L265.9 54.3 L266.0 55.6 L266.2 57.0 L266.4 58.3 L266.6 59.5 L266.8 60.7 L267.0 61.9 L267.2 63.1 L267.5 64.2 L267.7 65.4 L267.9 66.5 L268.1 67.5 L268.3 68.6 L268.5 69.6 L268.7 70.7 L269.0 71.7 L269.2 72.7 L269.4 73.7 L269.7 74.7 L269.9 75.7 L270.1 76.7 L270.4 77.7 L270.6 78.8 L270.8 79.8 L271.1 80.8 L271.3 81.8 L271.6 82.8 L271.8 83.9 L272.1 84.9 L272.4 86.0 L272.6 87.0 L272.9 88.1 L273.2 89.2 L273.4 90.4 L273.7 91.5 L274.0 92.7 L274.3 93.8 L274.5 95.0 L274.8 96.2 L275.1 97.5 L275.4 98.7 L275.7 100.0 L276.0 101.2 L276.3 102.5 L276.6 103.8 L276.9 105.1 L277.2 106.4 L277.5 107.7 L277.9 109.0 L278.2 110.3 L278.5 111.6 L278.8 112.9 L279.2 114.2 L279.5 115.5 L279.8 116.8 L280.2 118.1 L280.5 119.4 L280.9 120.7 L281.2 121.9 L281.6 123.2 L281.9 124.5 L282.3 125.7 L282.7 127.0 L283.0 128.2 L283.4 129.4 L283.8 130.6 L284.2 131.8 L284.6 133.0 L285.0 134.2 L285.4 135.3 L285.8 136.5 L286.2 137.6 L286.6 138.7 L287.0 139.9 L287.4 141.0 L287.8 142.2 L288.2 143.3 L288.7 144.5 L289.1 145.6 L289.6 146.7 L290.0 147.7 L290.5 148.8 L290.9 149.8 L291.4 150.8 L291.8 151.9 L292.3 152.9 L292.8 153.9 L293.3 154.9 L293.7 155.9 L294.2 156.9 L294.7 157.8 L295.2 158.8 L295.7 159.8 L296.2 160.7 L296.8 161.6 L297.3 162.6 L297.8 163.5 L298.3 164.4 L298.9 165.3 L299.4 166.2 L300.0 167.1 L300.5 168.0 L301.1 168.9 L301.7 169.8 L302.2 170.6 L302.8 171.5 L303.4 172.4 L304.0 173.2 L304.6 174.0 L305.2 174.8 L305.8 175.5 L306.4 176.3 L307.1 177.1 L307.7 177.8 L308.3 178.6 L309.0 179.3 L309.6 180.1 L310.3 180.8 L310.9 181.5 L311.6 182.2 L312.3 182.9 L313.0 183.6 L313.7 184.2 L314.4 184.9 L315.1 185.5 L315.8 186.2 L316.5 186.9 L317.3 187.6 L318.0 188.2 L318.8 188.9 L319.5 189.6 L320.3 190.3 L321.1 190.9 L321.8 191.6 L322.6 192.2 L323.4 192.9 L324.2 193.5 L325.0 194.1 L325.9 194.8 L326.7 195.4 L327.5 196.0 L328.4 196.6 L329.2 197.2 L330.1 197.7 L331.0 198.3 L331.9 198.8 L332.8 199.4 L333.7 199.9 L334.6 200.5 L335.5 201.0 L336.5 201.5 L337.4 202.0 L338.4 202.4 L339.3 202.9 L340.3 203.4 L341.3 203.8 L342.3 204.2 L343.3 204.7 L344.3 205.1 L345.3 205.5 L346.4 205.9 L347.4 206.2 L348.5 206.6 L349.5 207.0 L350.6 207.3 L351.7 207.6 L352.8 208.0 L354.0 208.3 L355.1 208.6 L356.2 208.9 L357.4 209.2 L358.6 209.5 L359.7 209.7 L360.9 210.0 L362.1 210.3 L363.4 210.5 L364.6 210.7 L365.8 211.0 L367.1 211.2 L368.4 211.4 L369.6 211.6 L370.9 211.8 L372.2 212.0 L373.6 212.1 L374.9 212.3 L376.3 212.5 L377.6 212.6 L379.0 212.8 L380.4 213.0 L381.8 213.1 L383.3 213.3 L384.7 213.5 L386.2 213.7 L387.6 213.9 L389.1 214.0 L390.6 214.2 L392.2 214.4 L393.7 214.6 L395.2 214.9 L396.8 215.1 L398.4 215.3 L400.0 215.5 L401.6 215.7 L403.3 215.9 L404.9 216.1 L406.6 216.3 L408.3 216.5 L410.0 216.7 L411.7 216.9 L413.5 217.1 L415.2 217.3 L417.0 217.4 L418.8 217.6 L420.7 217.8 L422.5 217.9 L424.4 218.1 L425.5 218.2" stroke="#996633" stroke-width="2.1" stroke-dasharray="1.5 4.46" stroke-dashoffset="5.51"/>
<path d="M70.5 221.7 L71.7 221.6 L73.7 221.6 L75.7 221.5 L77.7 221.4 L79.6 221.3 L81.5 221.3 L83.4 221.2 L85.3 221.1 L87.1 221.1 L88.9 221.0 L90.7 220.9 L92.5 220.9 L94.3 220.8 L96.0 220.7 L97.8 220.6 L99.5 220.6 L101.1 220.5 L102.8 220.4 L104.5 220.3 L106.1 220.2 L107.7 220.1 L109.3 220.0 L110.9 219.8 L112.4 219.7 L114.0 219.6 L115.5 219.4 L117.0 219.2 L118.5 219.1 L119.9 218.9 L121.4 218.7 L122.8 218.5 L124.2 218.4 L125.6 218.2 L127.0 218.0 L128.4 217.8 L129.8 217.7 L131.1 217.5 L132.4 217.4 L133.7 217.2 L135.0 217.1 L136.3 217.0 L137.6 216.8 L138.8 216.7 L140.1 216.5 L141.3 216.4 L142.5 216.2 L143.7 216.0 L144.9 215.8 L146.0 215.6 L147.2 215.4 L148.3 215.2 L149.5 214.9 L150.6 214.7 L151.7 214.4 L152.8 214.2 L153.9 213.9 L154.9 213.6 L156.0 213.3 L157.0 213.0 L158.1 212.7 L159.1 212.3 L160.1 212.0 L161.1 211.6 L162.1 211.3 L163.0 210.9 L164.0 210.5 L165.0 210.1 L165.9 209.7 L166.8 209.3 L167.7 208.9 L168.7 208.4 L169.6 208.0 L170.4 207.6 L171.3 207.1 L172.2 206.6 L173.0 206.1 L173.9 205.7 L174.7 205.2 L175.6 204.7 L176.4 204.2 L177.2 203.7 L178.0 203.2 L178.8 202.7 L179.6 202.1 L180.3 201.6 L181.1 201.1 L181.9 200.5 L182.6 199.9 L183.4 199.3 L184.1 198.7 L184.8 198.1 L185.5 197.5 L186.2 196.9 L186.9 196.2 L187.6 195.6 L188.3 194.9 L189.0 194.3 L189.7 193.6 L190.3 192.9 L191.0 192.2 L191.6 191.4 L192.2 190.7 L192.9 190.0 L193.5 189.2 L194.1 188.4 L194.7 187.7 L195.3 186.9 L195.9 186.1 L196.5 185.3 L197.1 184.4 L197.7 183.6 L198.2 182.8 L198.8 181.9 L199.4 181.1 L199.9 180.2 L200.5 179.3 L201.0 178.4 L201.5 177.5 L202.0 176.5 L202.6 175.6 L203.1 174.6 L203.6 173.6 L204.1 172.6 L204.6 171.6 L205.1 170.6 L205.6 169.6 L206.0 168.5 L206.5 167.4 L207.0 166.4 L207.4 165.3 L207.9 164.1 L208.4 163.0 L208.8 161.9 L209.2 160.7 L209.7 159.6 L210.1 158.4 L210.5 157.2 L211.0 156.0 L211.4 154.8 L211.8 153.6 L212.2 152.3 L212.6 151.1 L213.0 149.9 L213.4 148.6 L213.8 147.3 L214.2 146.1 L214.6 144.8 L214.9 143.5 L215.3 142.2 L215.7 140.9 L216.0 139.6 L216.4 138.3 L216.8 137.0 L217.1 135.7 L217.5 134.4 L217.8 133.0 L218.1 131.6 L218.5 130.2 L218.8 128.8 L219.1 127.4 L219.5 126.0 L219.8 124.6 L220.1 123.1 L220.4 121.6 L220.7 120.2 L221.0 118.7 L221.3 117.2 L221.6 115.8 L221.9 114.3 L222.2 112.8 L222.5 111.4 L222.8 109.9 L223.1 108.5 L223.4 107.0 L223.7 105.6 L223.9 104.2 L224.2 102.8 L224.5 101.5 L224.7 100.1 L225.0 98.8 L225.2 97.6 L225.5 96.3 L225.8 95.1 L226.0 94.0 L226.3 92.8 L226.5 91.8 L226.7 90.7 L227.0 89.7 L227.2 88.6 L227.4 87.7 L227.7 86.7 L227.9 85.8 L228.1 84.9 L228.4 84.0 L228.6 83.1 L228.8 82.3 L229.0 81.4 L229.2 80.6 L229.4 79.8 L229.6 79.0 L229.8 78.2 L230.0 77.4 L230.2 76.6 L230.4 75.9 L230.6 75.1 L230.8 74.3 L231.0 73.5 L231.2 72.8 L231.4 72.0 L231.6 71.2 L231.8 70.3 L232.0 69.5 L232.1 68.7 L232.3 67.8 L232.5 66.9 L232.7 66.0 L232.8 65.1 L233.0 64.1 L233.2 63.1 L233.3 62.0 L233.5 61.0 L233.7 59.8 L233.8 58.7 L234.0 57.5 L234.1 56.2 L234.3 54.9 L234.4 53.5 L234.6 52.1 L234.7 50.5 L234.9 48.8 L235.0 46.4 L235.2 44.1 L235.3 42.7 L235.5 41.9 L235.6 41.1 L235.7 40.5 L235.9 39.9 L236.0 39.4 L236.2 39.0 L236.3 38.6 L236.4 38.2 L236.5 37.9 L236.7 37.5 L236.8 37.1 L236.9 36.7 L237.0 36.2 L237.2 35.6 L237.3 35.0 L237.4 34.2 L237.5 33.2 L237.6 32.0 L237.8 30.8 L237.9 29.6 L238.0 28.5 L238.1 27.6 L238.2 26.9 L238.4 26.1 L238.5 25.4 L238.7 24.8 L238.8 24.2 L239.0 23.7 L239.2 23.2 L239.3 22.7 L239.5 22.3 L239.7 21.9 L239.8 21.4 L240.0 21.0 L240.1 20.6 L240.3 20.2 L240.5 19.7 L240.6 19.2 L240.8 18.7 L241.0 18.2 L241.1 17.7 L241.3 17.2 L241.4 16.7 L241.6 16.2 L241.8 15.7 L241.9 15.2 L242.1 14.8 L242.2 14.3 L242.4 13.9 L242.6 13.4 L242.7 13.0 L242.9 12.6 L243.1 12.3 L243.2 11.9 L243.4 11.6 L243.5 11.2 L243.7 10.9 L243.9 10.5 L244.0 10.2 L244.2 9.9 L244.4 9.6 L244.5 9.3 L244.7 9.0 L244.8 8.8 L245.0 8.6 L245.2 8.4 L245.3 8.3 L245.5 8.2 L245.6 8.0 L245.8 7.9 L246.0 7.8 L246.1 7.7 L246.3 7.6 L246.5 7.5 L246.6 7.4 L246.8 7.3 L246.9 7.2 L247.1 7.2 L247.3 7.1 L247.4 7.1 L247.6 7.1 L247.8 7.1 L247.9 7.1 L248.1 7.1 L248.2 7.1 L248.4 7.2 L248.6 7.2 L248.7 7.3 L248.9 7.4 L249.0 7.5 L249.2 7.6 L249.4 7.7 L249.5 7.8 L249.7 7.9 L249.9 8.0 L250.0 8.2 L250.2 8.3 L250.3 8.4 L250.5 8.6 L250.7 8.8 L250.8 9.0 L251.0 9.3 L251.1 9.6 L251.3 9.9 L251.5 10.2 L251.6 10.5 L251.8 10.9 L252.0 11.2 L252.1 11.6 L252.3 11.9 L252.4 12.3 L252.6 12.6 L252.8 13.0 L252.9 13.4 L253.1 13.9 L253.3 14.3 L253.4 14.8 L253.6 15.2 L253.7 15.7 L253.9 16.2 L254.1 16.7 L254.2 17.2 L254.4 17.7 L254.5 18.2 L254.7 18.7 L254.9 19.2 L255.0 19.7 L255.2 20.2 L255.4 20.6 L255.5 21.0 L255.7 21.4 L255.8 21.9 L256.0 22.3 L256.2 22.7 L256.3 23.2 L256.5 23.7 L256.7 24.2 L256.8 24.8 L257.0 25.4 L257.1 26.1 L257.3 26.9 L257.4 27.6 L257.5 28.5 L257.6 29.6 L257.7 30.8 L257.9 32.0 L258.0 33.2 L258.1 34.2 L258.2 35.0 L258.3 35.6 L258.5 36.2 L258.6 36.7 L258.7 37.1 L258.8 37.5 L259.0 37.9 L259.1 38.2 L259.2 38.6 L259.3 39.0 L259.5 39.4 L259.6 39.9 L259.8 40.5 L259.9 41.1 L260.0 41.9 L260.2 42.7 L260.3 44.1 L260.5 46.4 L260.6 48.8 L260.8 50.5 L260.9 52.1 L261.1 53.5 L261.2 54.9 L261.4 56.2 L261.5 57.5 L261.7 58.7 L261.8 59.8 L262.0 61.0 L262.2 62.0 L262.3 63.1 L262.5 64.1 L262.7 65.1 L262.8 66.0 L263.0 66.9 L263.2 67.8 L263.4 68.7 L263.5 69.5 L263.7 70.3 L263.9 71.2 L264.1 72.0 L264.3 72.8 L264.5 73.5 L264.7 74.3 L264.9 75.1 L265.1 75.9 L265.3 76.6 L265.5 77.4 L265.7 78.2 L265.9 79.0 L266.1 79.8 L266.3 80.6 L266.5 81.4 L266.7 82.3 L266.9 83.1 L267.1 84.0 L267.4 84.9 L267.6 85.8 L267.8 86.7 L268.1 87.7 L268.3 88.6 L268.5 89.7 L268.8 90.7 L269.0 91.8 L269.2 92.8 L269.5 94.0 L269.7 95.1 L270.0 96.3 L270.3 97.6 L270.5 98.8 L270.8 100.1 L271.0 101.5 L271.3 102.8 L271.6 104.2 L271.8 105.6 L272.1 107.0 L272.4 108.5 L272.7 109.9 L273.0 111.4 L273.3 112.8 L273.6 114.3 L273.9 115.8 L274.2 117.2 L274.5 118.7 L274.8 120.2 L275.1 121.6 L275.4 123.1 L275.7 124.6 L276.0 126.0 L276.4 127.4 L276.7 128.8 L277.0 130.2 L277.4 131.6 L277.7 133.0 L278.0 134.4 L278.4 135.7 L278.7 137.0 L279.1 138.3 L279.5 139.6 L279.8 140.9 L280.2 142.2 L280.6 143.5 L280.9 144.8 L281.3 146.1 L281.7 147.3 L282.1 148.6 L282.5 149.9 L282.9 151.1 L283.3 152.3 L283.7 153.6 L284.1 154.8 L284.5 156.0 L285.0 157.2 L285.4 158.4 L285.8 159.6 L286.3 160.7 L286.7 161.9 L287.1 163.0 L287.6 164.1 L288.1 165.3 L288.5 166.4 L289.0 167.4 L289.5 168.5 L289.9 169.6 L290.4 170.6 L290.9 171.6 L291.4 172.6 L291.9 173.6 L292.4 174.6 L292.9 175.6 L293.5 176.5 L294.0 177.5 L294.5 178.4 L295.0 179.3 L295.6 180.2 L296.1 181.1 L296.7 181.9 L297.3 182.8 L297.8 183.6 L298.4 184.4 L299.0 185.3 L299.6 186.1 L300.2 186.9 L300.8 187.7 L301.4 188.4 L302.0 189.2 L302.6 190.0 L303.3 190.7 L303.9 191.4 L304.5 192.2 L305.2 192.9 L305.8 193.6 L306.5 194.3 L307.2 194.9 L307.9 195.6 L308.6 196.2 L309.3 196.9 L310.0 197.5 L310.7 198.1 L311.4 198.7 L312.1 199.3 L312.9 199.9 L313.6 200.5 L314.4 201.1 L315.2 201.6 L315.9 202.1 L316.7 202.7 L317.5 203.2 L318.3 203.7 L319.1 204.2 L319.9 204.7 L320.8 205.2 L321.6 205.7 L322.5 206.1 L323.3 206.6 L324.2 207.1 L325.1 207.6 L325.9 208.0 L326.8 208.4 L327.8 208.9 L328.7 209.3 L329.6 209.7 L330.5 210.1 L331.5 210.5 L332.5 210.9 L333.4 211.3 L334.4 211.6 L335.4 212.0 L336.4 212.3 L337.4 212.7 L338.5 213.0 L339.5 213.3 L340.6 213.6 L341.6 213.9 L342.7 214.2 L343.8 214.4 L344.9 214.7 L346.0 214.9 L347.2 215.2 L348.3 215.4 L349.5 215.6 L350.6 215.8 L351.8 216.0 L353.0 216.2 L354.2 216.4 L355.4 216.5 L356.7 216.7 L357.9 216.8 L359.2 217.0 L360.5 217.1 L361.8 217.2 L363.1 217.4 L364.4 217.5 L365.7 217.7 L367.1 217.8 L368.5 218.0 L369.9 218.2 L371.3 218.4 L372.7 218.5 L374.1 218.7 L375.6 218.9 L377.0 219.1 L378.5 219.2 L380.0 219.4 L381.5 219.6 L383.1 219.7 L384.6 219.8 L386.2 220.0 L387.8 220.1 L389.4 220.2 L391.0 220.3 L392.7 220.4 L394.4 220.5 L396.0 220.6 L397.7 220.6 L399.5 220.7 L401.2 220.8 L403.0 220.9 L404.8 220.9 L406.6 221.0 L408.4 221.1 L410.2 221.1 L412.1 221.2 L414.0 221.3 L415.9 221.3 L417.8 221.4 L419.8 221.5 L421.8 221.6 L423.8 221.6 L425.5 221.7" stroke="#0000ff" stroke-dasharray="1.6 4.35 5.5 4.34" stroke-dashoffset="0.8"/>
</g>
<g font-family="Liberation Sans, sans-serif" font-size="18" fill="#000" stroke="#000" stroke-width="0.25" text-rendering="geometricPrecision">
<text transform="translate(67.9 13.10) scale(1.05 1)" text-anchor="end">0.0</text>
<text transform="translate(66.9 56.98) scale(1.0 1)" text-anchor="end">−0.2</text>
<text transform="translate(66.9 100.86) scale(1.0 1)" text-anchor="end">−0.4</text>
<text transform="translate(66.9 144.74) scale(1.0 1)" text-anchor="end">−0.6</text>
<text transform="translate(66.9 188.62) scale(1.0 1)" text-anchor="end">−0.8</text>
<text transform="translate(66.9 232.50) scale(1.0 1)" text-anchor="end">−1.0</text>
<text transform="translate(70.80 245.7) scale(1.05 1)" text-anchor="middle">−10</text>
<text transform="translate(159.55 245.7) scale(1.05 1)" text-anchor="middle">−5</text>
<text transform="translate(248.30 245.7) scale(1.05 1)" text-anchor="middle">0</text>
<text transform="translate(337.05 245.7) scale(1.05 1)" text-anchor="middle">5</text>
<text transform="translate(424.40 245.7) scale(1.0 1)" text-anchor="middle">10</text>
<text transform="translate(248 275.2) scale(1.05 1)" text-anchor="middle">r</text>
<text transform="translate(18.3 116.6) rotate(-90) scale(1.05 1)" text-anchor="middle">V/<tspan font-style="italic">E</tspan><tspan font-size="12.8" dy="-8.8">2</tspan></text>
</g>
</svg>
</body></html>
